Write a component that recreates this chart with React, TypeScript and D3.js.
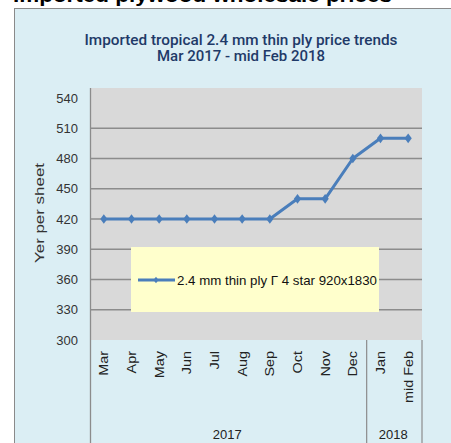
import React from "react";
import * as d3 from "d3";

const months: string[] = ["Mar", "Apr", "May", "Jun", "Jul", "Aug", "Sep", "Oct", "Nov", "Dec", "Jan", "mid Feb"];
const prices: number[] = [420, 420, 420, 420, 420, 420, 420, 440, 440, 480, 500, 500];
const yTicks: number[] = [300, 330, 360, 390, 420, 450, 480, 510, 540];
const years: { label: string; from: number; to: number }[] = [
  { label: "2017", from: 0, to: 9 },
  { label: "2018", from: 10, to: 11 },
];
const seriesName = "2.4 mm thin ply \u0393 4 star 920x1830";
const titleLines = ["Imported tropical 2.4 mm thin ply price trends", "Mar 2017 - mid Feb 2018"];
const pageTitle = "Imported plywood wholesale prices";

const W = 451;
const H = 443;
const plotL = 90;
const plotR = 422;
const plotTop = 88;
const plotBottom = 340;

export default function App() {
  const x = d3.scaleBand<string>().domain(months).range([plotL, plotR]);
  const y = d3.scaleLinear().domain([300, 540]).range([340, 98]);
  const cx = (m: string) => (x(m) as number) + x.bandwidth() / 2;
  const line = d3
    .line<number>()
    .x((_, i) => cx(months[i]))
    .y((v) => y(v));
  const diamond = "M0,-4.8L3.6,0L0,4.8L-3.6,0Z";
  const blue = "#4A7EBB";
  const font = "'Liberation Sans', Arial, sans-serif";

  return (
    <svg
      width={W}
      height={H}
      style={{ position: "absolute", left: 0, top: 0, display: "block" }}
      fontFamily={font}
    >
      <rect x={0} y={0} width={W} height={H} fill="#ffffff" />
      <text x={13} y={2} fontSize={20} fontWeight="bold" fill="#000" textLength={379} lengthAdjust="spacingAndGlyphs">
        {pageTitle}
      </text>
      <rect x={14.5} y={8.5} width={W + 20} height={H + 20} fill="#DBEEF4" stroke="#8a8a8a" strokeWidth={1} />

      {/* titles */}
      <text x={241} y={45} textAnchor="middle" fontSize={14} fontWeight={500} fontFamily="Roboto, sans-serif" fill="#1F3A68" textLength={313} lengthAdjust="spacingAndGlyphs">
        {titleLines[0]}
      </text>
      <text x={241} y={61} textAnchor="middle" fontSize={14} fontWeight={500} fontFamily="Roboto, sans-serif" fill="#1F3A68" textLength={168} lengthAdjust="spacingAndGlyphs">
        {titleLines[1]}
      </text>

      {/* plot area */}
      <rect x={plotL} y={plotTop} width={plotR - plotL} height={plotBottom - plotTop} fill="#D9D9D9" />
      {yTicks
        .filter((t) => t > 300 && t < 540)
        .map((t) => (
          <line key={"g" + t} x1={plotL} x2={plotR} y1={y(t)} y2={y(t)} stroke="#8C8C8C" strokeWidth={1.3} />
        ))}
      <line x1={plotL + 0.5} x2={plotL + 0.5} y1={plotTop} y2={H} stroke="#8C8C8C" strokeWidth={1.3} />

      {/* y tick labels */}
      {yTicks.map((t) => (
        <text key={"t" + t} x={78} y={y(t)} dy="0.36em" textAnchor="end" fontSize={13} fill="#333">
          {t}
        </text>
      ))}
      <text
        transform={`translate(44,${213}) rotate(-90)`}
        textAnchor="middle"
        fontSize={13}
        fill="#333"
        textLength={100}
        lengthAdjust="spacingAndGlyphs"
      >
        Yer per sheet
      </text>

      {/* category group separators */}
      {years.map((g) => {
        const xr = (x(months[g.to]) as number) + x.bandwidth();
        return <line key={"s" + g.label} x1={xr} x2={xr} y1={plotBottom} y2={H} stroke="#8C8C8C" strokeWidth={1.2} />;
      })}
      {years.map((g) => {
        const x0 = x(months[g.from]) as number;
        const x1 = (x(months[g.to]) as number) + x.bandwidth();
        return (
          <text key={"y" + g.label} x={(x0 + x1) / 2 - 1} y={439} textAnchor="middle" fontSize={13} fill="#222">
            {g.label}
          </text>
        );
      })}

      {/* month labels */}
      {months.map((m) => (
        <text
          key={"m" + m}
          transform={`translate(${cx(m) + 4.5},351) rotate(-90) scale(1.2,1)`}
          textAnchor="end"
          fontSize={12}
          fill="#222"
        >
          {m}
        </text>
      ))}

      {/* series */}
      <path d={line(prices) || ""} fill="none" stroke={blue} strokeWidth={3} strokeLinejoin="round" />
      {prices.map((v, i) => (
        <path key={"p" + i} d={diamond} transform={`translate(${cx(months[i])},${y(v)})`} fill={blue} />
      ))}

      {/* legend */}
      <rect x={131} y={247} width={248} height={65} fill="#FFFFCC" />
      <line x1={138} x2={175} y1={280} y2={280} stroke={blue} strokeWidth={3} />
      <path d={diamond} transform="translate(156,280) scale(0.7)" fill={blue} />
      <text x={177} y={284.5} fontSize={13} fill="#111" textLength={200} lengthAdjust="spacingAndGlyphs">
        {seriesName}
      </text>
    </svg>
  );
}
